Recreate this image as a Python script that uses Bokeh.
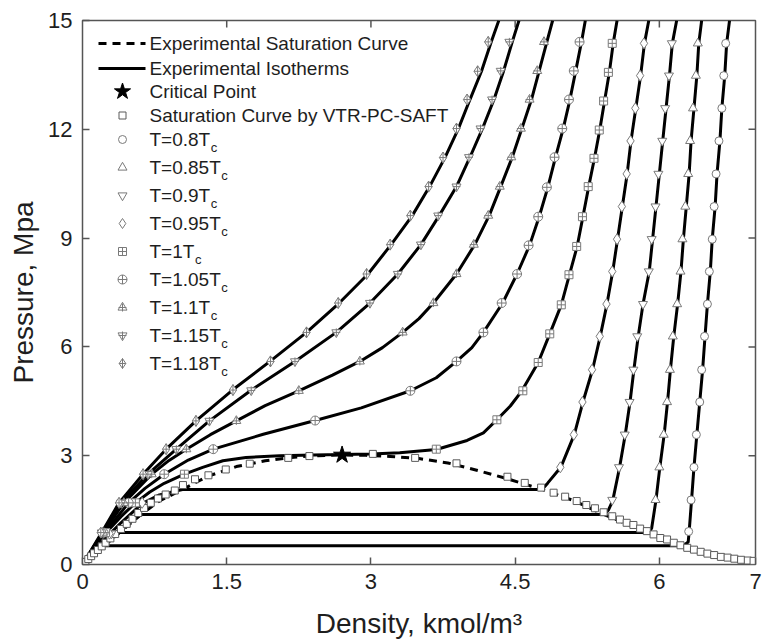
from bokeh.plotting import figure
from bokeh.models import Range1d, FixedTicker
from bokeh.core.properties import value
from bokeh.embed import file_html
from bokeh.resources import INLINE

# ---------------- data ----------------
x_ticks = [0, 1.5, 3, 4.5, 6, 7]
x_tick_labels = ["0", "1.5", "3", "4.5", "6", "7"]
y_ticks = [0, 3, 6, 9, 12, 15]
y_tick_labels = ["0", "3", "6", "9", "12", "15"]

# experimental saturation curve (dashed)
sat_exp_rho = [0, 0.1, 0.23, 0.385, 0.61, 0.8, 1.04, 1.3, 1.6, 1.9, 2.2, 2.45, 2.7, 2.95, 3.2, 3.5, 3.8, 4.1, 4.4,
               4.78, 5.1, 5.42, 5.65, 5.89, 6.05, 6.22, 6.45, 6.7, 7.0]
sat_exp_p = [0, 0.25, 0.52, 0.88, 1.38, 1.75, 2.07, 2.43, 2.7, 2.86, 2.96, 3.0, 3.02, 3.01, 2.98, 2.92, 2.8, 2.6, 2.38,
             2.07, 1.77, 1.38, 1.13, 0.88, 0.7, 0.52, 0.33, 0.19, 0.1]

# saturation curve by VTR-PC-SAFT (squares)
sat_saft_rho = [0.03, 0.06, 0.09, 0.12, 0.16, 0.20, 0.24, 0.29, 0.34, 0.40, 0.46, 0.52, 0.58, 0.64, 0.71, 0.785,
                0.865, 0.96, 1.045, 1.17, 1.31, 1.49, 1.74, 2.14, 2.36, 3.02, 3.46, 3.89, 4.42, 4.60, 4.77, 4.90,
                5.02, 5.14, 5.24, 5.33, 5.42, 5.51, 5.59, 5.66, 5.73, 5.80, 5.87, 5.94, 6.01, 6.08, 6.15, 6.22,
                6.29, 6.36, 6.43, 6.50, 6.57, 6.64, 6.71, 6.78, 6.85, 6.92, 6.98]
sat_saft_p = [0.07, 0.15, 0.23, 0.31, 0.40, 0.50, 0.60, 0.72, 0.84, 0.98, 1.12, 1.26, 1.42, 1.56, 1.70, 1.82,
              1.93, 2.04, 2.19, 2.35, 2.46, 2.62, 2.78, 2.94, 2.99, 3.05, 2.94, 2.79, 2.42, 2.25, 2.12, 1.98,
              1.87, 1.75, 1.64, 1.55, 1.44, 1.33, 1.24, 1.15, 1.09, 0.99, 0.92, 0.83, 0.73, 0.69, 0.60, 0.53,
              0.46, 0.41, 0.35, 0.30, 0.26, 0.21, 0.19, 0.16, 0.13, 0.11, 0.10]

crit_rho = [2.7]
crit_p = [3.02]

# experimental isotherms (solid lines)
l08_rho = [0, 0.12, 0.23, 6.25, 6.30, 6.31, 6.335, 6.36, 6.39, 6.42, 6.45, 6.475, 6.50, 6.53, 6.55, 6.58, 6.60, 6.63,
           6.65, 6.68, 6.70, 6.73]
l08_p = [0, 0.30, 0.52, 0.52, 0.62, 0.91, 1.78, 2.68, 3.58, 4.48, 5.37, 6.29, 7.18, 8.08, 8.97, 9.87, 10.77, 11.68,
         12.58, 13.48, 14.37, 15.0]
l085_rho = [0, 0.2, 0.385, 5.89, 5.92, 5.965, 6.005, 6.05, 6.085, 6.115, 6.15, 6.19, 6.225, 6.25, 6.28, 6.31, 6.33,
            6.36, 6.39, 6.41, 6.44]
l085_p = [0, 0.5, 0.88, 0.88, 1.0, 1.78, 2.68, 3.58, 4.48, 5.37, 6.29, 7.18, 8.08, 8.97, 9.87, 10.77, 11.68, 12.58,
          13.48, 14.37, 15.0]
l09_rho = [0, 0.2, 0.4, 0.61, 5.43, 5.47, 5.515, 5.585, 5.645, 5.695, 5.735, 5.78, 5.83, 5.895, 5.93, 5.965, 6.0,
           6.035, 6.07, 6.105, 6.135, 6.18]
l09_p = [0, 0.55, 1.0, 1.38, 1.38, 1.5, 1.76, 2.66, 3.58, 4.48, 5.37, 6.29, 7.18, 8.08, 8.97, 9.87, 10.77, 11.68,
         12.58, 13.48, 14.37, 15.0]
l095_rho = [0, 0.2, 0.4, 0.62, 0.8, 1.04, 4.78, 4.84, 4.975, 5.115, 5.205, 5.305, 5.385, 5.455, 5.515, 5.565, 5.615,
            5.665, 5.705, 5.755, 5.805, 5.845, 5.89]
l095_p = [0, 0.62, 1.15, 1.68, 1.92, 2.07, 2.07, 2.25, 2.68, 3.58, 4.48, 5.37, 6.29, 7.18, 8.08, 8.97, 9.87, 10.77,
          11.68, 12.58, 13.48, 14.37, 15.0]
l10_rho = [0, 0.2, 0.4, 0.55, 0.7, 0.85, 1.06, 1.25, 1.46, 1.7, 2.05, 2.4, 2.7, 3.0, 3.3, 3.68, 4.0, 4.17, 4.31,
           4.45, 4.57, 4.74, 4.86, 4.98, 5.065, 5.145, 5.205, 5.265, 5.325, 5.38, 5.43, 5.48, 5.52, 5.56]
l10_p = [0, 0.75, 1.32, 1.70, 2.0, 2.24, 2.49, 2.68, 2.86, 2.95, 3.0, 3.02, 3.03, 3.05, 3.08, 3.17, 3.42, 3.63, 3.99,
         4.37, 4.79, 5.57, 6.36, 7.16, 7.99, 8.77, 9.59, 10.42, 11.2, 11.98, 12.78, 13.57, 14.37, 15.0]
l105_rho = [0, 0.2, 0.48, 0.65, 0.85, 1.1, 1.36, 1.88, 2.42, 2.9, 3.41, 3.68, 3.89, 4.05, 4.17, 4.37, 4.52, 4.65,
            4.75, 4.84, 4.92, 5.0, 5.07, 5.13, 5.19, 5.23]
l105_p = [0, 0.78, 1.70, 2.1, 2.49, 2.88, 3.18, 3.59, 3.97, 4.32, 4.79, 5.15, 5.60, 5.98, 6.40, 7.21, 8.01, 8.80,
          9.59, 10.40, 11.23, 12.02, 12.82, 13.61, 14.41, 15.0]
l11_rho = [0, 0.2, 0.43, 0.72, 0.9, 1.08, 1.33, 1.60, 1.9, 2.25, 2.6, 2.885, 3.12, 3.33, 3.5, 3.65, 3.89, 4.08, 4.23,
           4.35, 4.47, 4.57, 4.67, 4.75, 4.83, 4.89]
l11_p = [0, 0.82, 1.70, 2.49, 2.87, 3.18, 3.58, 3.96, 4.38, 4.79, 5.22, 5.60, 5.98, 6.40, 6.78, 7.21, 8.01, 8.82,
         9.62, 10.42, 11.23, 12.02, 12.82, 13.61, 14.41, 15.0]
l115_rho = [0, 0.2, 0.40, 0.68, 0.976, 1.32, 1.75, 2.21, 2.64, 2.99, 3.28, 3.52, 3.71, 3.89, 4.03, 4.16, 4.28, 4.38,
            4.47, 4.54]
l115_p = [0, 0.85, 1.70, 2.49, 3.18, 3.96, 4.8, 5.6, 6.40, 7.21, 8.01, 8.82, 9.62, 10.42, 11.23, 12.02, 12.82, 13.61,
          14.41, 15.0]
l118_rho = [0, 0.2, 0.38, 0.63, 0.87, 1.18, 1.56, 1.95, 2.33, 2.67, 2.97, 3.21, 3.43, 3.61, 3.77, 3.91, 4.03, 4.15,
            4.25, 4.33]
l118_p = [0, 0.88, 1.70, 2.49, 3.18, 3.96, 4.81, 5.6, 6.4, 7.21, 8.01, 8.82, 9.62, 10.42, 11.22, 12.02, 12.82, 13.6,
          14.4, 15.0]

# VTR-PC-SAFT isotherm points (markers)
m08_rho = [6.305, 6.33, 6.36, 6.385, 6.42, 6.44, 6.47, 6.50, 6.52, 6.55, 6.57, 6.59, 6.62, 6.65, 6.67, 6.69]
m08_p = [0.91, 1.78, 2.68, 3.58, 4.48, 5.37, 6.29, 7.18, 8.08, 8.97, 9.87, 10.77, 11.68, 12.58, 13.48, 14.37]
m085_rho = [5.96, 6.00, 6.045, 6.08, 6.11, 6.14, 6.185, 6.22, 6.24, 6.27, 6.30, 6.32, 6.35, 6.38, 6.40]
m085_p = [1.78, 2.68, 3.58, 4.48, 5.37, 6.29, 7.18, 8.08, 8.97, 9.87, 10.77, 11.68, 12.58, 13.48, 14.37]
m09_rho = [0.30, 5.51, 5.58, 5.64, 5.69, 5.73, 5.77, 5.83, 5.89, 5.92, 5.96, 5.99, 6.03, 6.06, 6.10, 6.13]
m09_p = [0.85, 1.78, 2.68, 3.58, 4.48, 5.37, 6.29, 7.18, 8.08, 8.97, 9.87, 10.77, 11.68, 12.58, 13.48, 14.37]
m095_rho = [0.28, 0.62, 4.97, 5.11, 5.20, 5.30, 5.38, 5.45, 5.51, 5.56, 5.61, 5.66, 5.70, 5.75, 5.80, 5.84]
m095_p = [0.85, 1.70, 2.68, 3.58, 4.48, 5.37, 6.29, 7.18, 8.08, 8.97, 9.87, 10.77, 11.68, 12.58, 13.48, 14.37]
m10_rho = [0.24, 0.55, 1.06, 3.68, 4.31, 4.58, 4.74, 4.86, 4.98, 5.06, 5.14, 5.20, 5.26, 5.32, 5.375, 5.42, 5.47, 5.51]
m10_p = [0.88, 1.70, 2.49, 3.18, 3.99, 4.79, 5.57, 6.36, 7.16, 7.99, 8.77, 9.59, 10.42, 11.2, 11.98, 12.78, 13.57,
         14.37]
m105_rho = [0.22, 0.48, 0.85, 1.36, 2.42, 3.41, 3.89, 4.17, 4.36, 4.52, 4.64, 4.74, 4.83, 4.91, 4.99, 5.06, 5.11, 5.17]
m105_p = [0.88, 1.70, 2.49, 3.18, 3.97, 4.79, 5.60, 6.40, 7.21, 8.01, 8.80, 9.59, 10.40, 11.23, 12.02, 12.82, 13.61,
          14.41]
m11_rho = [0.21, 0.43, 0.72, 1.08, 1.60, 2.25, 2.885, 3.33, 3.65, 3.89, 4.07, 4.22, 4.34, 4.46, 4.56, 4.65, 4.73, 4.80]
m11_p = [0.88, 1.70, 2.49, 3.18, 3.96, 4.79, 5.60, 6.40, 7.21, 8.01, 8.82, 9.62, 10.42, 11.23, 12.02, 12.82, 13.61,
         14.41]
m115_rho = [0.20, 0.40, 0.68, 0.976, 1.32, 1.755, 2.21, 2.64, 2.99, 3.28, 3.52, 3.70, 3.89, 4.02, 4.14, 4.26, 4.35,
            4.44]
m115_p = [0.88, 1.70, 2.49, 3.18, 3.96, 4.80, 5.60, 6.40, 7.21, 8.01, 8.82, 9.62, 10.42, 11.23, 12.02, 12.82, 13.61,
          14.41]
m118_rho = [0.19, 0.38, 0.63, 0.87, 1.18, 1.565, 1.955, 2.33, 2.66, 2.955, 3.20, 3.41, 3.60, 3.75, 3.89, 4.00, 4.11,
            4.22]
m118_p = [0.88, 1.70, 2.49, 3.18, 3.96, 4.81, 5.60, 6.40, 7.21, 8.01, 8.82, 9.62, 10.42, 11.22, 12.02, 12.82, 13.60,
          14.41]

legend_top_labels = ["Experimental Saturation Curve", "Experimental Isotherms", "Critical Point",
                     "Saturation Curve by VTR-PC-SAFT"]
legend_T_labels = ["T=0.8T", "T=0.85T", "T=0.9T", "T=0.95T", "T=1T", "T=1.05T", "T=1.1T", "T=1.15T", "T=1.18T"]
legend_sub = "c"

# ---------------- layout / styles ----------------
W, H = 762, 644
FL, FR, FT, FB = 82, 755, 20, 564
X0, X1, Y0, Y1 = 0, 7, 0, 15
FONT = "Liberation Sans"
TXT = "#1e1e1e"
MK = "#7a7a7a"
FRAME_C = "#555555"
TICK_LEN = 7


def px2x(px):
    return X0 + (px - FL) * (X1 - X0) / (FR - FL)


def py2y(py):
    return Y0 + (FB - py) * (Y1 - Y0) / (FB - FT)


p = figure(width=W, height=H, x_range=Range1d(X0, X1), y_range=Range1d(Y0, Y1),
           output_backend="svg", toolbar_location=None,
           min_border_left=FL, min_border_right=W - FR, min_border_top=FT, min_border_bottom=H - FB)
p.grid.visible = False
p.background_fill_color = "white"
p.border_fill_color = "white"
p.outline_line_color = FRAME_C
p.outline_line_width = 1.5

for ax, ticks, labels in ((p.xaxis[0], x_ticks, x_tick_labels), (p.yaxis[0], y_ticks, y_tick_labels)):
    ax.ticker = FixedTicker(ticks=ticks)
    ax.major_label_overrides = {t: l for t, l in zip(ticks, labels)}
    ax.major_tick_in = TICK_LEN
    ax.major_tick_out = 0
    ax.minor_tick_line_color = None
    ax.axis_line_color = None
    ax.major_tick_line_color = FRAME_C
    ax.major_tick_line_width = 1.5
    ax.major_label_text_font = FONT
    ax.major_label_text_font_size = "22px"
    ax.major_label_text_color = TXT
    ax.axis_label_text_font = FONT
    ax.axis_label_text_font_size = "28px"
    ax.axis_label_text_font_style = "normal"
    ax.axis_label_text_color = TXT
p.xaxis.axis_label = "Density, kmol/m³"
p.yaxis.axis_label = "Pressure, Mpa"
p.xaxis.major_label_standoff = 9
p.yaxis.major_label_standoff = 10
p.xaxis.axis_label_standoff = 16
p.yaxis.axis_label_standoff = 6

# mirrored inward ticks on the top and right edges of the frame
top_ticks = x_ticks[1:-1]
right_ticks = y_ticks[1:-1]
p.segment(x0=top_ticks, y0=[Y1] * len(top_ticks), x1=top_ticks, y1=[py2y(FT + TICK_LEN)] * len(top_ticks),
          line_color=FRAME_C, line_width=1.5)
p.segment(x0=[X1] * len(right_ticks), y0=right_ticks, x1=[px2x(FR - TICK_LEN)] * len(right_ticks), y1=right_ticks,
          line_color=FRAME_C, line_width=1.5)

# ---------------- marks ----------------
p.line(sat_exp_rho, sat_exp_p, line_color="black", line_width=3, line_dash="8 6")

for rr, pp in ((l08_rho, l08_p), (l085_rho, l085_p), (l09_rho, l09_p), (l095_rho, l095_p), (l10_rho, l10_p),
               (l105_rho, l105_p), (l11_rho, l11_p), (l115_rho, l115_p), (l118_rho, l118_p)):
    p.line(rr, pp, line_color="black", line_width=3)

p.scatter(sat_saft_rho, sat_saft_p, marker="square", size=7, line_color="#5a5a5a", fill_color="white", line_width=1)

mk = dict(line_color=MK, fill_color="white", line_width=1)
p.scatter(m08_rho, m08_p, marker="circle", size=8, **mk)
p.scatter(m085_rho, m085_p, marker="triangle", size=9, **mk)
p.scatter(m09_rho, m09_p, marker="inverted_triangle", size=9, **mk)
p.scatter(m095_rho, m095_p, marker="diamond", size=11, **mk)
p.scatter(m10_rho, m10_p, marker="square_cross", size=8, **mk)
p.scatter(m105_rho, m105_p, marker="circle_cross", size=9, **mk)
p.scatter(m11_rho, m11_p, marker="triangle", size=9, **mk)
p.scatter(m11_rho, m11_p, marker="cross", size=8, line_color=MK, line_width=1)
p.scatter(m115_rho, m115_p, marker="inverted_triangle", size=9, **mk)
p.scatter(m115_rho, m115_p, marker="cross", size=8, line_color=MK, line_width=1)
p.scatter(m118_rho, m118_p, marker="diamond_cross", size=11, **mk)

p.scatter(crit_rho, crit_p, marker="star", size=18, line_color="black", fill_color="black")

# ---------------- legend (drawn by hand, for the subscripts) ----------------
LX_SYM, LX_TXT = 122, 149
line_x0, line_x1 = 98, 145
rows_top = [43, 68, 91, 115]
rows_T = [139, 167, 195, 223, 251, 279, 307, 335, 363]
LEG_FS = 19
char_w = {"T": 0.611, "=": 0.584, ".": 0.278}

p.line([px2x(line_x0), px2x(line_x1)], [py2y(rows_top[0])] * 2, line_color="black", line_width=3, line_dash="8 6")
p.line([px2x(line_x0), px2x(line_x1)], [py2y(rows_top[1])] * 2, line_color="black", line_width=3)
p.scatter([px2x(LX_SYM)], [py2y(rows_top[2])], marker="star", size=17, line_color="black", fill_color="black")
p.scatter([px2x(LX_SYM)], [py2y(rows_top[3])], marker="square", size=7, line_color="#5a5a5a", fill_color="white")

leg_markers = ["circle", "triangle", "inverted_triangle", "diamond", "square_cross", "circle_cross",
               "triangle", "inverted_triangle", "diamond_cross"]
leg_sizes = [8, 9, 9, 10, 8, 9, 9, 9, 10]
for i, (m, s) in enumerate(zip(leg_markers, leg_sizes)):
    p.scatter([px2x(LX_SYM)], [py2y(rows_T[i])], marker=m, size=s, **mk)
    if i in (6, 7):
        p.scatter([px2x(LX_SYM)], [py2y(rows_T[i])], marker="cross", size=8, line_color=MK, line_width=1)

p.text([px2x(LX_TXT)] * 4, [py2y(r) for r in rows_top], text=legend_top_labels,
       text_font=value(FONT), text_font_size=f"{LEG_FS}px", text_color=TXT,
       text_baseline="middle", text_align="left")
p.text([px2x(LX_TXT)] * len(rows_T), [py2y(r) for r in rows_T], text=legend_T_labels,
       text_font=value(FONT), text_font_size=f"{LEG_FS}px", text_color=TXT,
       text_baseline="middle", text_align="left")


def text_w(s):
    return sum(char_w.get(ch, 0.556) for ch in s) * LEG_FS


p.text([px2x(LX_TXT + text_w(s) + 0.5) for s in legend_T_labels], [py2y(r + 8) for r in rows_T],
       text=[legend_sub] * len(rows_T), text_font=value(FONT), text_font_size="13px", text_color=TXT,
       text_baseline="middle", text_align="left")

open("out.html", "w").write(file_html(p, INLINE))
